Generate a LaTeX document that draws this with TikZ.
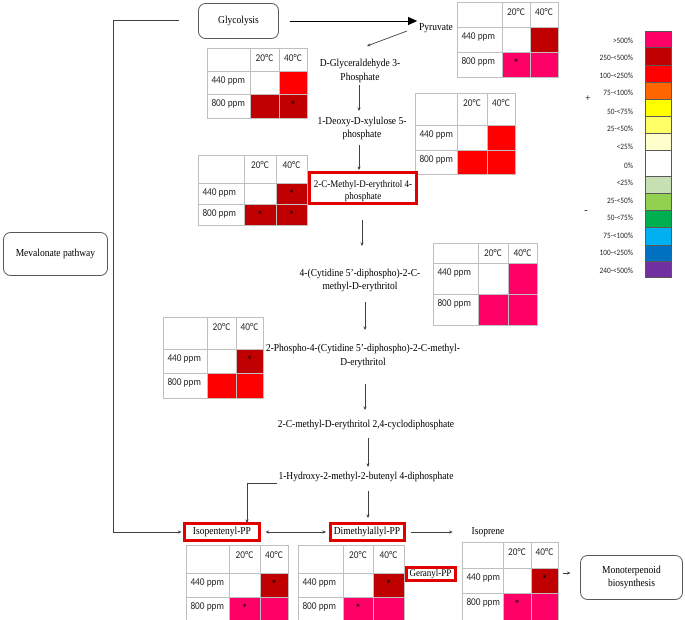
\documentclass[tikz,border=0pt]{standalone}
\usepackage{fontspec}
\setmainfont{Liberation Serif}
\newfontfamily\carl{Carlito}
\usepackage{graphicx}
\usetikzlibrary{arrows.meta,calc}

\definecolor{pk}{HTML}{FF0066}
\definecolor{dr}{HTML}{C00000}
\definecolor{rd}{HTML}{FF0000}
\definecolor{orng}{HTML}{FF6600}
\definecolor{yel}{HTML}{FFFF00}
\definecolor{lyel}{HTML}{FFFF66}
\definecolor{vlyel}{HTML}{FFFFCC}
\definecolor{lgrn}{HTML}{C6E0B4}
\definecolor{mgrn}{HTML}{92D050}
\definecolor{grn}{HTML}{00B050}
\definecolor{lblu}{HTML}{00B0F0}
\definecolor{blu}{HTML}{0070C0}
\definecolor{purp}{HTML}{7030A0}
\definecolor{boxred}{HTML}{E00000}
\definecolor{linec}{HTML}{404040}
\definecolor{gridc}{HTML}{BFBFBF}
\definecolor{boxc}{HTML}{595959}
\definecolor{legc}{HTML}{595959}
\definecolor{txtc}{HTML}{262626}

\newcommand\vs[1]{\scalebox{1}[1.12]{#1}}
\newcommand\twoline[3][1]{\vs{\renewcommand\arraystretch{#1}\begin{tabular}{@{}c@{}}#2\\#3\end{tabular}}}

\def\getX#1#2#3#4{\def\htXa{#1}\def\htXb{#2}\def\htXc{#3}\def\htXd{#4}}
\def\getY#1#2#3#4{\def\htYa{#1}\def\htYb{#2}\def\htYc{#3}\def\htYd{#4}}
\def\getC#1#2#3#4{\def\htCa{#1}\def\htCb{#2}\def\htCc{#3}\def\htCd{#4}}
\def\getS#1#2#3#4{\def\htSa{#1}\def\htSb{#2}\def\htSc{#3}\def\htSd{#4}}
\newcommand\heattab[5]{%
  \getX#2\getY#3\getC#4\getS#5%
  \fill[fill=\htCa] (\htXb,\htYb) rectangle (\htXc,\htYc);
  \fill[fill=\htCb] (\htXc,\htYb) rectangle (\htXd,\htYc);
  \fill[fill=\htCc] (\htXb,\htYc) rectangle (\htXc,\htYd);
  \fill[fill=\htCd] (\htXc,\htYc) rectangle (\htXd,\htYd);
  \draw[tgrid] (\htXa,\htYa) rectangle (\htXd,\htYd)
     (\htXb,\htYa) -- (\htXb,\htYd) (\htXc,\htYa) -- (\htXc,\htYd)
     (\htXa,\htYb) -- (\htXd,\htYb) (\htXa,\htYc) -- (\htXd,\htYc);
  \node[ttext] (#1-h20) at ({(\htXb+\htXc)/2},{\htYa+10}) {\vs{20°C}};
  \node[ttext] (#1-h40) at ({(\htXc+\htXd)/2},{\htYa+10}) {\vs{40°C}};
  \node[ttext,anchor=west] (#1-r440) at ({\htXa+4.5},{\htYb+10}) {\vs{440 ppm}};
  \node[ttext,anchor=west] (#1-r800) at ({\htXa+4.5},{\htYc+10}) {\vs{800 ppm}};
  \node[starn] (#1-s1) at ({(\htXb+\htXc)/2},{\htYb+11}) {\htSa};
  \node[starn] (#1-s2) at ({(\htXc+\htXd)/2},{\htYb+11}) {\htSb};
  \node[starn] (#1-s3) at ({(\htXb+\htXc)/2},{\htYc+11}) {\htSc};
  \node[starn] (#1-s4) at ({(\htXc+\htXd)/2},{\htYc+11}) {\htSd};
}

\begin{document}
\begin{tikzpicture}[x=1pt,y=-1pt,
  every node/.style={inner sep=0pt, outer sep=0pt},
  ptxt/.style={font=\fontsize{9.5}{12.5}\selectfont, text=black},
  redbox/.style={ptxt, draw=boxred, line width=3pt, fill=white},
  rbox/.style={ptxt, draw=boxc, line width=0.8pt, rounded corners=7pt},
  ttext/.style={font=\carl\fontsize{9.3}{11}\selectfont, text=txtc},
  starn/.style={font=\carl\fontsize{12}{13}\selectfont, text=black},
  tgrid/.style={draw=gridc, line width=0.6pt},
  sarr/.style={draw=linec, line width=0.7pt, -{Stealth[length=3.5pt,width=3pt]}},
  bigarr/.style={draw=black, line width=0.9pt, -{Triangle[length=9pt,width=8pt]}},
  legbox/.style={draw=legc, line width=0.7pt, minimum width=26pt},
  legtxt/.style={font=\carl\fontsize{7.3}{8}\selectfont, text=txtc, anchor=east},
]
\useasboundingbox (0,0) rectangle (685,620);
\fill[white] (0,0) rectangle (685,620);

% heat tables
\heattab{tdg}{{207}{250}{279}{307}}{{48}{71}{94}{118}}{{white}{rd}{dr}{dr}}{{}{}{}{*}}
\heattab{tpy}{{457}{502}{530}{558}}{{2}{27}{52}{77}}{{white}{dr}{pk}{pk}}{{}{}{*}{}}
\heattab{tdx}{{415}{457}{487}{515}}{{93}{125}{150}{174}}{{white}{rd}{rd}{rd}}{{}{}{}{}}
\heattab{tme}{{198}{244}{276}{307}}{{155}{183}{204}{225}}{{white}{dr}{dr}{dr}}{{}{*}{*}{*}}
\heattab{tcd}{{433}{478}{508}{537}}{{243}{263}{294}{325}}{{white}{pk}{pk}{pk}}{{}{}{}{}}
\heattab{tcp}{{163}{207}{236}{263}}{{317}{349}{373}{398}}{{white}{dr}{rd}{rd}}{{}{*}{}{}}
\heattab{tip}{{186}{229}{260}{288}}{{545}{573}{597}{620}}{{white}{dr}{pk}{pk}}{{}{*}{*}{}}
\heattab{tdm}{{298}{343}{373}{404}}{{545}{573}{597}{620}}{{white}{dr}{pk}{pk}}{{}{*}{*}{}}
\heattab{tis}{{462}{503}{531}{558}}{{542}{568}{593}{620}}{{white}{dr}{pk}{pk}}{{}{*}{*}{}}

% legend
\foreach \lc/\ltop/\lbot/\llab/\lly [count=\i] in {
 pk/31/47/{>500\%}/41,
 dr/47/65/{250-<500\%}/58,
 rd/65/82/{100-<250\%}/76,
 orng/82/99/{75-<100\%}/93,
 yel/99/116/{50-<75\%}/112,
 lyel/116/133/{25-<50\%}/129,
 vlyel/133/150/{<25\%}/147,
 white/150/176/{0\%}/166,
 lgrn/176/193/{<25\%}/183,
 mgrn/193/210/{25-<50\%}/201,
 grn/210/227/{50-<75\%}/218,
 lblu/227/245/{75-<100\%}/236,
 blu/245/261/{100-<250\%}/253,
 purp/261/277/{240-<500\%}/271}
{
 \pgfmathsetmacro\lh{\lbot-\ltop}
 \node[legbox, fill=\lc, minimum height=\lh pt] (lg\i) at (658,{(\ltop+\lbot)/2}) {};
 \node[legtxt] (lgl\i) at (633,\lly) {\vs{\llab}};
}
\node[ptxt, font=\fontsize{10}{12}\selectfont] (plus) at (588,99) {+};
\node[ptxt, font=\fontsize{10}{12}\selectfont] (minus) at (586,212) {-};

% pathway nodes
\node[rbox, minimum width=80pt, minimum height=35pt] (gly) at (238.5,21) {\vs{Glycolysis}};
\node[ptxt] (pyr) at (436,28) {\vs{Pyruvate}};
\node[ptxt] (dg3p) at (360,70.5) {\twoline[1.07]{D-Glyceraldehyde 3-}{Phosphate}};
\node[ptxt] (dxp) at (362,128.5) {\twoline[0.95]{1-Deoxy-D-xylulose 5-}{phosphate}};
\node[redbox, minimum width=107pt, minimum height=31pt] (mep) at (363,188) {};
\node[ptxt, font=\fontsize{9}{12.5}\selectfont] (meptxt) at (363,191) {\twoline[0.86]{2-C-Methyl-D-erythritol 4-}{phosphate}};
\node[ptxt] (cdpme) at (360,280) {\twoline[0.95]{4-(Cytidine 5’-diphospho)-2-C-}{methyl-D-erythritol}};
\node[ptxt] (cdpmep) at (363,355.5) {\twoline[1.02]{2-Phospho-4-(Cytidine 5’-diphospho)-2-C-methyl-}{D-erythritol}};
\node[ptxt] (mecpp) at (366,425) {\vs{2-C-methyl-D-erythritol 2,4-cyclodiphosphate}};
\node[ptxt] (hmbpp) at (366,477) {\vs{1-Hydroxy-2-methyl-2-butenyl 4-diphosphate}};
\node[redbox, minimum width=75pt, minimum height=17pt] (ipp) at (222,532) {\vs{Isopentenyl-PP}};
\node[redbox, minimum width=74pt, minimum height=17pt] (dmapp) at (367,532) {\vs{Dimethylallyl-PP}};
\node[ptxt] (iso) at (488,532) {\vs{Isoprene}};
\node[redbox, minimum width=49pt, minimum height=13pt, font=\fontsize{9}{11}\selectfont] (ger) at (430.5,574) {\vs{Geranyl-PP}};
\node[rbox, minimum width=104pt, minimum height=43pt] (mev) at (55.5,254) {\vs{Mevalonate pathway}};
\node[rbox, minimum width=102pt, minimum height=44pt] (mono) at (631.5,577.5) {\twoline[0.93]{Monoterpenoid}{biosynthesis}};

% connectors
\draw[bigarr, shorten <=11pt, shorten >=2pt] (gly.east) -- (gly.east -| pyr.west);
\coordinate (pya) at (407,31);
\coordinate (pyb) at (367,46);
\draw[sarr] (pya) -- (pyb);
\draw[sarr, shorten <=14.5pt, shorten >=17.5pt] ([xshift=-1pt]dg3p.center) -- ([xshift=-1pt]dg3p.center |- dxp.center);
\draw[sarr, shorten <=16.5pt, shorten >=18pt] ([xshift=-3pt]dxp.center) -- ([xshift=-3pt]dxp.center |- mep.center);
\draw[sarr, shorten <=32pt, shorten >=34pt] ([xshift=-1pt]mep.center) -- ([xshift=-1pt]mep.center |- cdpme.center);
\draw[sarr, shorten <=22pt, shorten >=25.5pt] ([xshift=5pt]cdpme.center) -- ([xshift=5pt]cdpme.center |- cdpmep.center);
\draw[sarr, shorten <=28.5pt, shorten >=15pt] ([xshift=2pt]cdpmep.center) -- ([xshift=2pt]cdpmep.center |- mecpp.center);
\draw[sarr, shorten <=13pt, shorten >=10pt] ([xshift=2pt]mecpp.center) -- ([xshift=2pt]mecpp.center |- hmbpp.center);
\draw[sarr, shorten <=14pt, shorten >=14pt] ([xshift=2pt]hmbpp.center) -- ([xshift=2pt]hmbpp.center |- dmapp.center);
\draw[sarr, shorten >=0.5pt] ([xshift=-2pt,yshift=-6pt]hmbpp.west) -| ([xshift=25pt]ipp.north);
\draw[sarr, shorten >=3pt] ([xshift=-20pt,yshift=1pt]gly.west) -- ++(-65,0) |- (ipp.west);
\draw[sarr, {Stealth[length=3.5pt,width=3pt]}-{Stealth[length=3.5pt,width=3pt]}, shorten <=6pt, shorten >=4pt] (ipp.east) -- (dmapp.west);
\draw[sarr, shorten <=7pt, shorten >=19pt] (dmapp.east) -- (iso.west);
\coordinate (tisE) at (563,573);
\draw[sarr, shorten >=10pt] (tisE) -- (tisE -| mono.west);
\end{tikzpicture}
\end{document}
